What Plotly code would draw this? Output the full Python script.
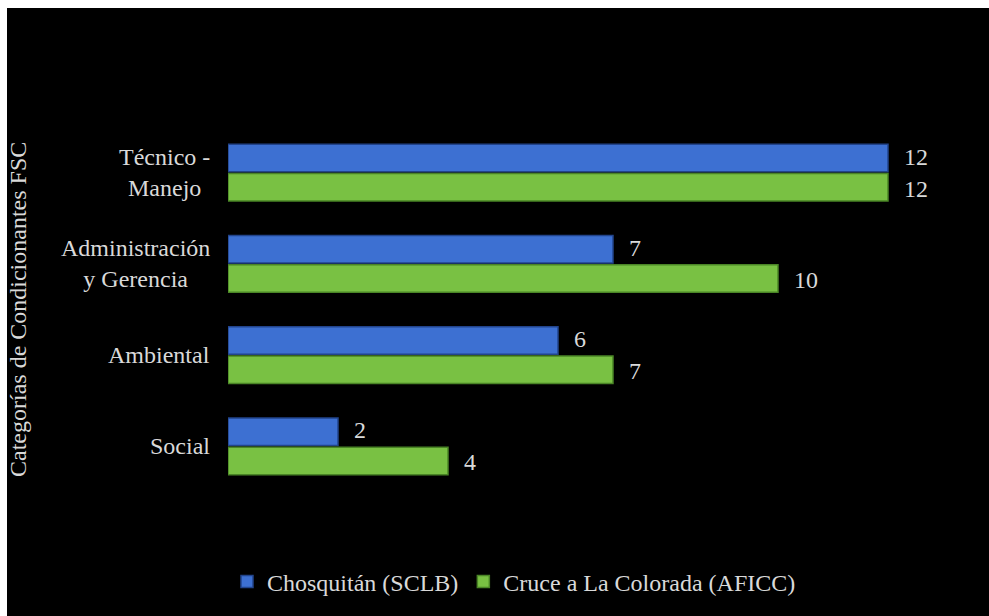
import plotly.graph_objects as go

categories = ["Técnico - Manejo", "Administración y Gerencia", "Ambiental", "Social"]
cat_labels = ["Técnico -<br>Manejo", "Administración<br>y Gerencia", "Ambiental", "Social"]
chosquitan = [12, 7, 6, 2]
cruce = [12, 10, 7, 4]
series_names = ["Chosquitán (SCLB)", "Cruce a La Colorada (AFICC)"]
axis_title = "Categorías de Condicionantes FSC"

W, H = 989, 616
L, R, T, B = 228, 46, 127, 124
pw, ph = W - L - R, H - T - B
FONT = "Liberation Serif"
TXT = "#d9d9d9"
FS = 24

fig = go.Figure()
fig.add_trace(go.Bar(
    y=categories, x=chosquitan, orientation="h", name=series_names[0],
    marker=dict(color="#3d70d2", line=dict(color="#22448c", width=1.5)),
))
fig.add_trace(go.Bar(
    y=categories, x=cruce, orientation="h", name=series_names[1],
    marker=dict(color="#79c143", line=dict(color="#4a8526", width=1.5)),
))

shapes = [dict(type="rect", xref="paper", yref="paper", layer="below",
               x0=(7 - L) / pw, x1=(W + 20 - L) / pw,
               y0=-(B + 20) / ph, y1=(H - 8 - B) / ph,
               fillcolor="black", line=dict(width=0))]

annotations = []
for c, lab in zip(categories, cat_labels):
    annotations.append(dict(x=0, xref="paper", y=c, yref="y", text=lab,
                            xanchor="right", xshift=-16, align="center",
                            showarrow=False,
                            font=dict(family=FONT, size=FS, color=TXT)))
for vals, ys in ((chosquitan, 16), (cruce, -16)):
    for c, v in zip(categories, vals):
        annotations.append(dict(x=v, xref="x", y=c, yref="y", text=str(v),
                                xanchor="left", xshift=14, yshift=ys,
                                showarrow=False,
                                font=dict(family=FONT, size=FS, color=TXT)))
annotations.append(dict(x=(18 - L) / pw, xref="paper", y=(H - 310 - B) / ph, yref="paper",
                        text=axis_title, textangle=-90, showarrow=False,
                        xanchor="center", yanchor="middle",
                        font=dict(family=FONT, size=FS, color=TXT)))

fig.update_layout(
    width=W, height=H,
    margin=dict(l=L, r=R, t=T, b=B),
    paper_bgcolor="white", plot_bgcolor="black",
    barmode="group", bargap=0.36, bargroupgap=0.06,
    xaxis=dict(range=[0, 13], visible=False),
    yaxis=dict(autorange="reversed", showticklabels=False, showgrid=False,
               zeroline=False, showline=False, ticks=""),
    showlegend=True,
    legend=dict(orientation="h", x=(514 - L) / pw, xanchor="center",
                y=-(582 - (H - B)) / ph, yanchor="middle",
                font=dict(family=FONT, size=FS, color=TXT),
                bgcolor="rgba(0,0,0,0)", itemwidth=30),
    shapes=shapes, annotations=annotations,
)

fig.write_html("out.html")
